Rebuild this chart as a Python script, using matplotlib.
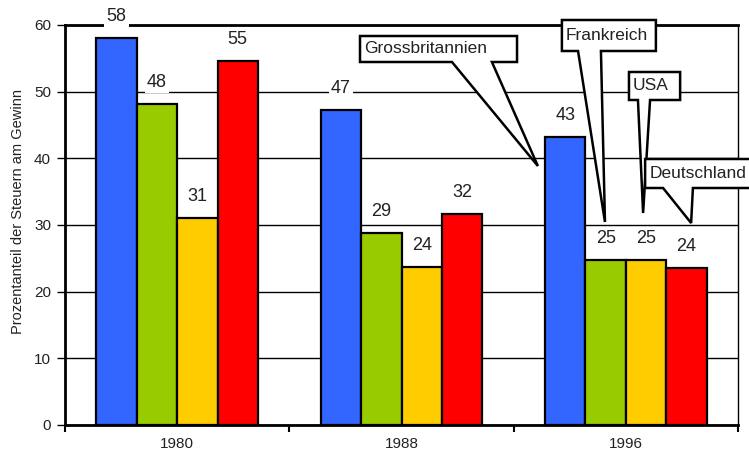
import matplotlib.pyplot as plt
from matplotlib.patches import Polygon
import numpy as np

plt.rcParams["font.family"] = ["Liberation Sans", "DejaVu Sans"]

# ---------- data ----------
years = ["1980", "1988", "1996"]
countries = ["Grossbritannien", "Frankreich", "USA", "Deutschland"]
grossbritannien = [58.1, 47.2, 43.2]
frankreich = [48.2, 28.8, 24.7]
usa = [31.1, 23.7, 24.7]
deutschland = [54.6, 31.7, 23.55]
colors = ["#3366FF", "#99CC00", "#FFCC00", "#FF0000"]

series = [grossbritannien, frankreich, usa, deutschland]

# ---------- figure ----------
fig = plt.figure(figsize=(7.49, 4.58), dpi=100)
ax = fig.add_axes([65 / 749, 1 - 425 / 458, 673 / 749, 400 / 458])

x = np.arange(len(years))
width = 0.18
for i, (vals, col) in enumerate(zip(series, colors)):
    pos = x + (i - 1.5) * width
    ax.bar(pos, vals, width, color=col, edgecolor="black", linewidth=1.6, zorder=2)
    for px, v in zip(pos, vals):
        ax.annotate(f"{v:.0f}", (px, v), xytext=(0, 15.5), textcoords="offset points",
                    ha="center", va="center", fontsize=13, color="#222222", zorder=3,
                    bbox=dict(facecolor="white", edgecolor="none", pad=1.5))

ax.set_xlim(-0.5, 2.5)
ax.set_ylim(0, 60)
ax.set_yticks(range(0, 61, 10))
ax.yaxis.grid(True, color="black", linewidth=1)
ax.set_axisbelow(True)

ax.set_xticks([-0.5, 0.5, 1.5, 2.5])
ax.set_xticklabels([])
ax.set_xticks(x, minor=True)
ax.set_xticklabels(years, minor=True, fontsize=11, color="#222222")
ax.tick_params(axis="x", which="minor", length=0, pad=9)
ax.tick_params(axis="x", which="major", length=5, width=1.5)
ax.tick_params(axis="y", length=6, width=1, labelsize=11, labelcolor="#222222", pad=4)

for side in ["left", "bottom", "top"]:
    ax.spines[side].set_linewidth(2)
ax.spines["right"].set_linewidth(1)

fig.text(18 / 749, 1 - 212 / 458, "Prozentanteil der Steuern am Gewinn",
         rotation=90, ha="center", va="center", fontsize=10.5, color="#222222")

# ---------- callouts ----------
callouts = [
    # label, box x0, x1, y bottom, y top, wedge base x0, x1, tip
    ("Grossbritannien", 0.815, 1.515, 54.45, 58.35, 1.225, 1.403, (1.608, 38.85)),
    ("Frankreich", 1.715, 2.134, 56.1, 60.75, 1.787, 1.889, (1.907, 30.45)),
    ("USA", 2.014, 2.242, 48.75, 52.95, 2.054, 2.108, (2.077, 31.8)),
    ("Deutschland", 2.086, 2.62, 35.55, 39.9, 2.166, 2.299, (2.291, 30.3)),
]
for label, bx0, bx1, by0, by1, w0, w1, tip in callouts:
    verts = [(bx0, by1), (bx1, by1), (bx1, by0), (w1, by0), tip, (w0, by0), (bx0, by0)]
    ax.add_patch(Polygon(verts, closed=True, facecolor="white", edgecolor="black",
                         linewidth=1.8, zorder=5, clip_on=False))
    ax.text(bx0 + 0.018, (by0 + by1) / 2, label, ha="left", va="center",
            fontsize=12.5, color="#222222", zorder=6, clip_on=False)

fig.savefig("out.png", dpi=100)
